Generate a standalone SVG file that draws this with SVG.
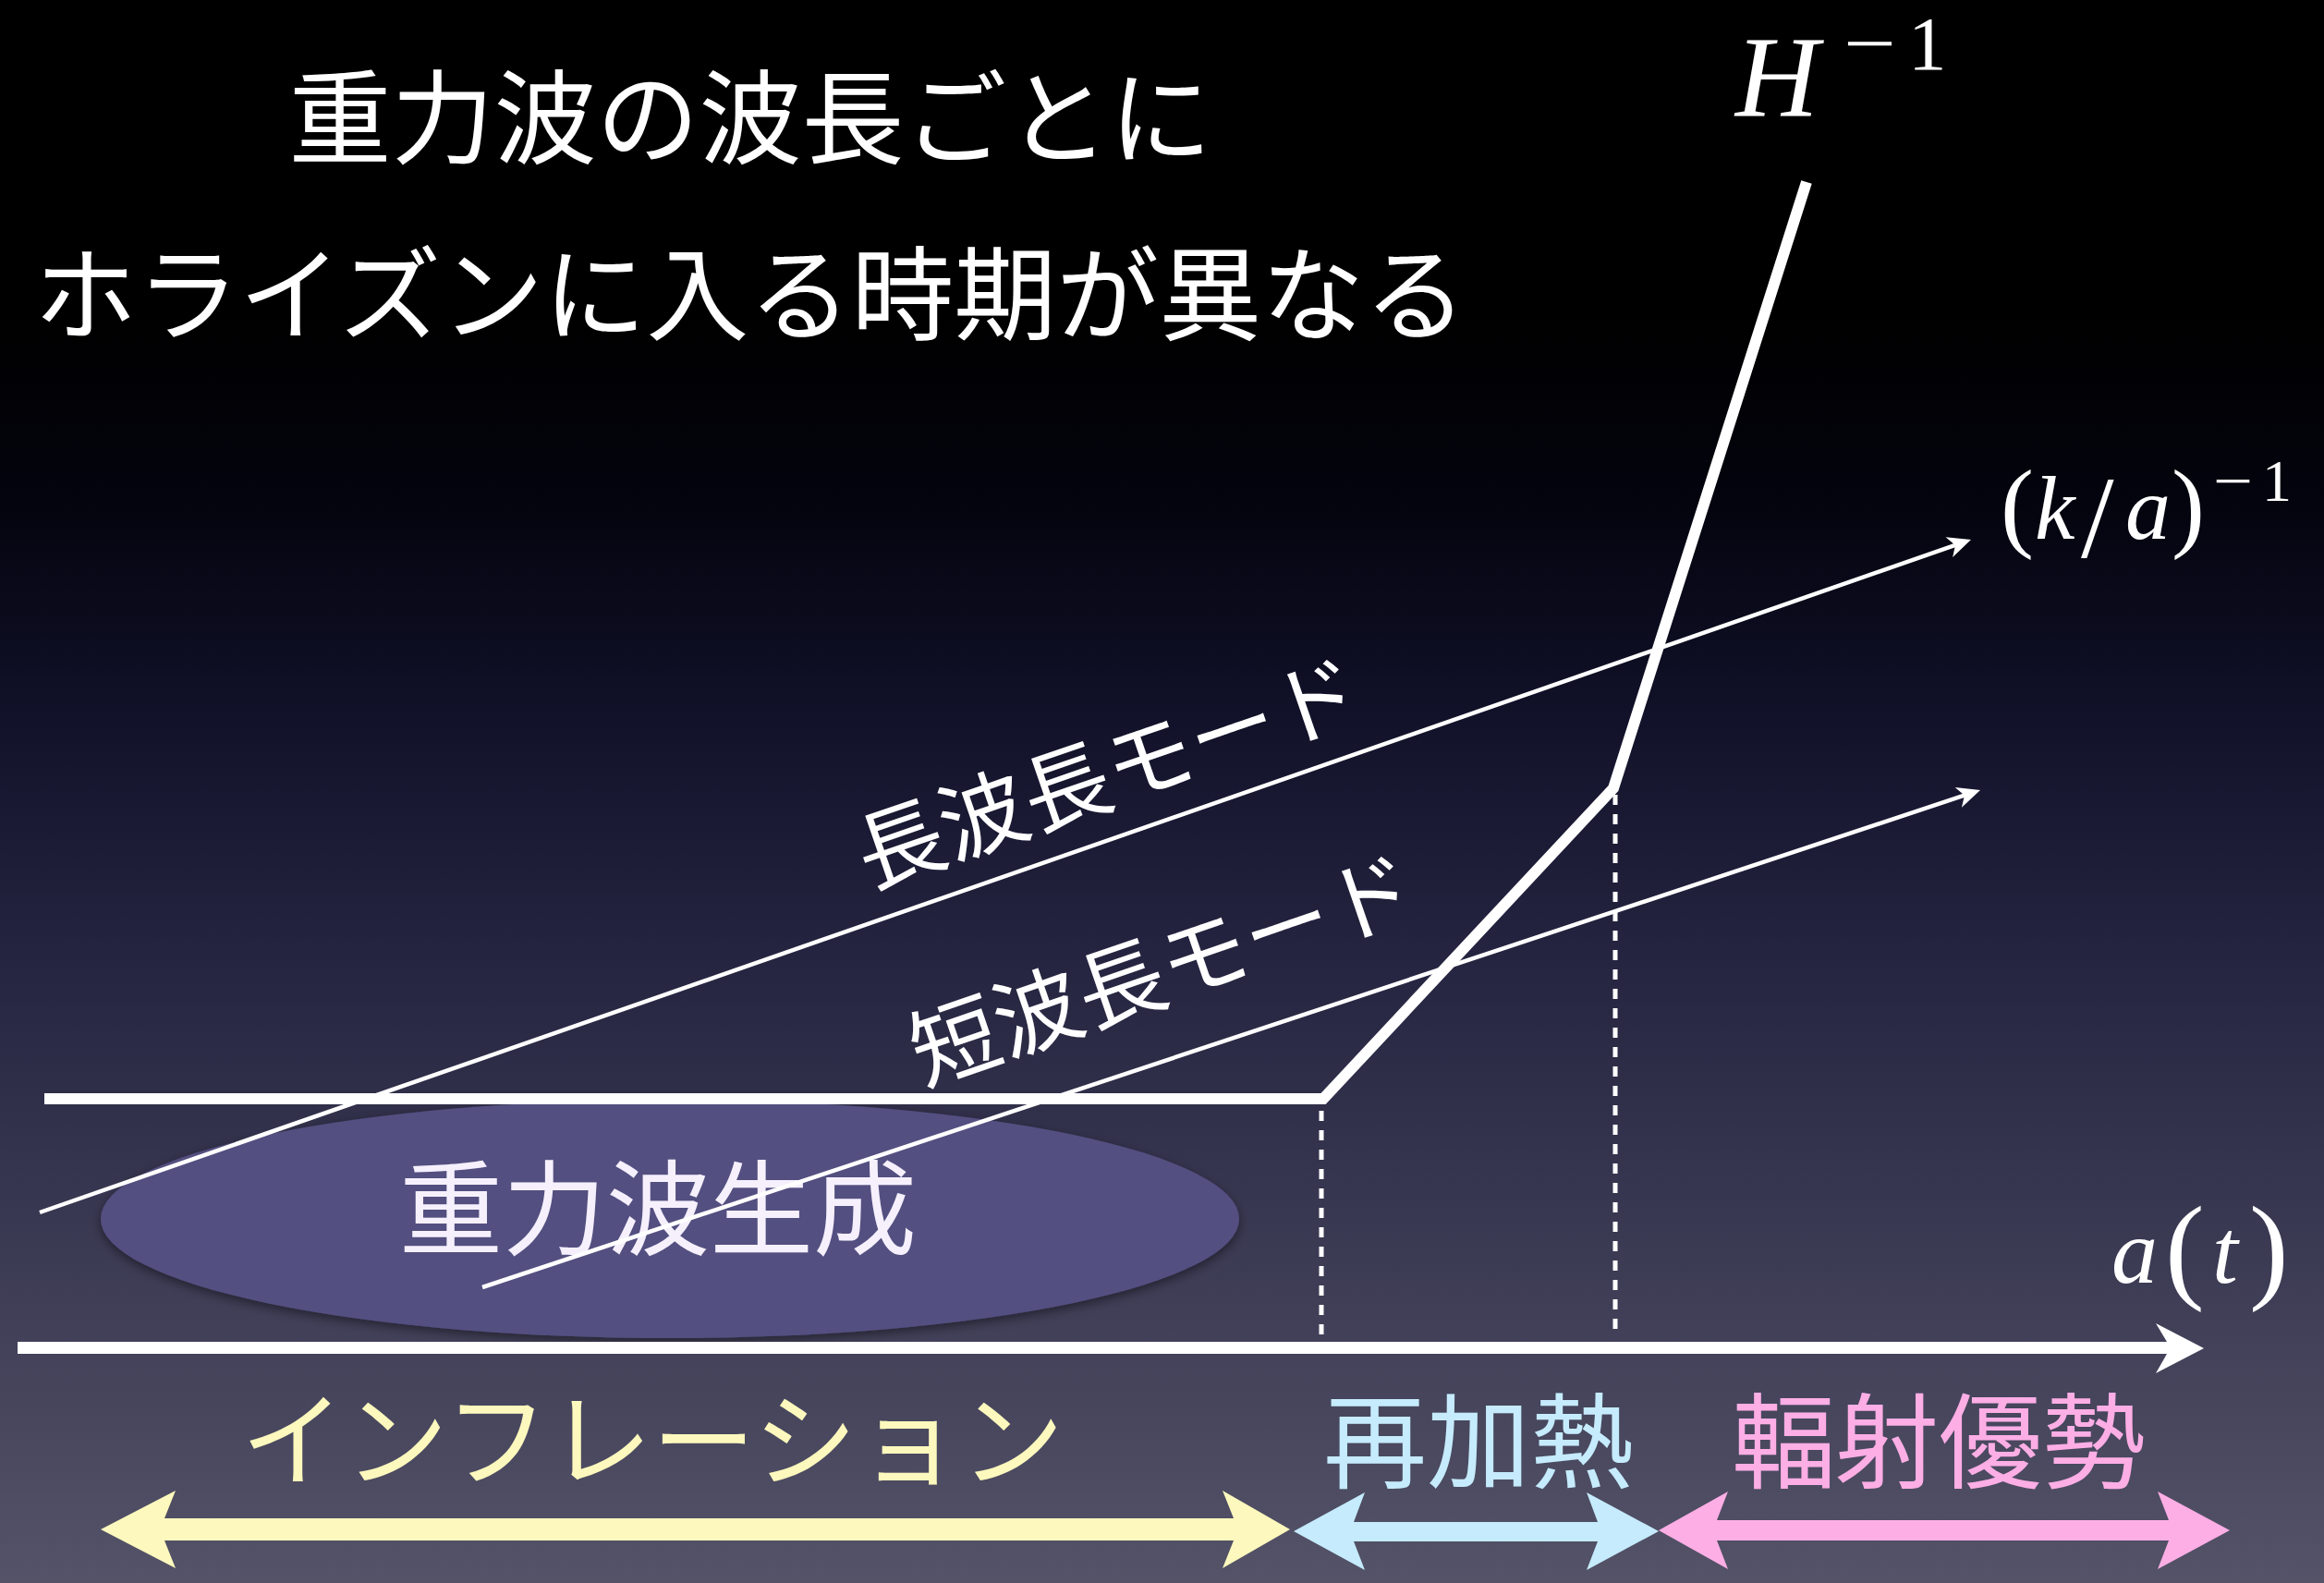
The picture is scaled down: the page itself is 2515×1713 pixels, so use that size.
<svg xmlns="http://www.w3.org/2000/svg" width="2515" height="1713" viewBox="0 0 2515 1713">
<defs>
<linearGradient id="bg" x1="0" y1="0" x2="0" y2="1">
<stop offset="0" stop-color="#000000"/>
<stop offset="0.2" stop-color="#000000"/>
<stop offset="0.32" stop-color="#04040f"/>
<stop offset="0.45" stop-color="#111129"/>
<stop offset="0.6" stop-color="#252440"/>
<stop offset="0.75" stop-color="#373650"/>
<stop offset="0.9" stop-color="#48475e"/>
<stop offset="1" stop-color="#545368"/>
</linearGradient>
<filter id="shadow" x="-10%" y="-20%" width="120%" height="140%">
<feDropShadow dx="0" dy="4" stdDeviation="6" flood-color="#000000" flood-opacity="0.45"/>
</filter>
<marker id="thinHead" markerUnits="userSpaceOnUse" viewBox="-30 -15 32 30" markerWidth="32" markerHeight="30" refX="-15" refY="0" orient="auto">
<path d="M0,0 L-25,-11.5 L-18,0 L-25,11.5 Z" fill="#ffffff"/>
</marker>
<style>
.jp{font-family:"Noto Sans CJK JP","Noto Sans CJK SC",sans-serif;fill:#ffffff}
.math{font-family:"Liberation Serif",serif;fill:#ffffff}
.it{font-style:italic}
.gen{fill:#f5f0fc}
.yellow{fill:#fdf8bd}
.blue{fill:#c5ebfc}
.pink{fill:#fdaee5}
.thick{fill:none;stroke:#ffffff;stroke-width:12;stroke-linejoin:miter}
.thin{fill:none;stroke:#ffffff;stroke-width:4.5}
.dot{fill:none;stroke:#ffffff;stroke-width:5;stroke-dasharray:11 10}
</style>
</defs>
<rect x="0" y="0" width="2515" height="1713" fill="url(#bg)"/>

<g id="node-generation">
<ellipse cx="725" cy="1319" rx="616" ry="129" fill="#534f80" filter="url(#shadow)"/>
<text class="jp gen" x="712" y="1350" font-size="112" text-anchor="middle">重力波生成</text>
</g>

<g id="connectors">
<polyline class="thick" points="48,1189 1432,1189 1746,853 1955,197"/>
<line class="dot" x1="1430" y1="1202" x2="1430" y2="1448"/>
<line class="dot" x1="1748" y1="860" x2="1748" y2="1448"/>
<line class="thin" x1="43" y1="1312" x2="2118.8" y2="588.9" marker-end="url(#thinHead)"/>
<line class="thin" x1="522" y1="1393" x2="2128.8" y2="859.7" marker-end="url(#thinHead)"/>
<polygon id="axis" fill="#ffffff" points="19,1452 2345,1452 2333,1432 2385,1459 2333,1486 2345,1465 19,1465"/>
<polygon id="arrow-inflation" class="yellow" points="109,1655 190,1613 178,1643 1335,1643 1323,1613 1396,1655 1323,1697 1335,1667 178,1667 190,1697"/>
<polygon id="arrow-reheating" class="blue" points="1400,1657 1477,1615 1465,1647 1729,1647 1717,1615 1795,1657 1717,1699 1729,1668 1465,1668 1477,1699"/>
<polygon id="arrow-radiation" class="pink" points="1795,1656 1870,1614 1858,1645 2347,1645 2335,1614 2413,1656 2335,1698 2347,1667 1858,1667 1870,1698"/>
</g>

<g id="node-title">
<text class="jp" x="812" y="169" font-size="111" text-anchor="middle">重力波の波長ごとに</text>
<text class="jp" x="812" y="360" font-size="111" text-anchor="middle">ホライズンに入る時期が異なる</text>
</g>

<g id="node-hubble">
<text class="math it" x="1878" y="125" font-size="125">H</text>
<text class="math" x="1995" y="75" font-size="83" textLength="57" lengthAdjust="spacingAndGlyphs">−</text>
<text class="math" x="2065" y="75" font-size="83">1</text>
</g>

<g id="node-wavelength">
<text class="math" x="2165" y="583" font-size="108">(</text>
<text class="math it" x="2202" y="583" font-size="98">k</text>
<text class="math" x="2252" y="603" font-size="128">/</text>
<text class="math it" x="2300" y="583" font-size="98">a</text>
<text class="math" x="2350" y="583" font-size="108">)</text>
<text class="math" x="2395" y="542" font-size="64" textLength="43" lengthAdjust="spacingAndGlyphs">−</text>
<text class="math" x="2448" y="542" font-size="64">1</text>
</g>

<g id="node-scale-factor">
<text class="math it" x="2285" y="1388" font-size="100">a</text>
<text class="math" x="2343" y="1393" font-size="128">(</text>
<text class="math it" x="2394" y="1388" font-size="100">t</text>
<text class="math" x="2434" y="1393" font-size="128">)</text>
</g>

<g id="node-long-mode">
<text class="jp" x="1210" y="869" font-size="95" text-anchor="middle" transform="rotate(-19 1210 869)">長波長モード</text>
</g>

<g id="node-short-mode">
<text class="jp" x="1269" y="1082" font-size="95" text-anchor="middle" transform="rotate(-19 1269 1082)">短波長モード</text>
</g>

<g id="node-inflation">
<text class="jp yellow" x="706" y="1600" font-size="112" text-anchor="middle">インフレーション</text>
</g>
<g id="node-reheating">
<text class="jp blue" x="1600" y="1602" font-size="112" text-anchor="middle">再加熱</text>
</g>
<g id="node-radiation">
<text class="jp pink" x="2098" y="1602" font-size="112" text-anchor="middle">輻射優勢</text>
</g>
</svg>
